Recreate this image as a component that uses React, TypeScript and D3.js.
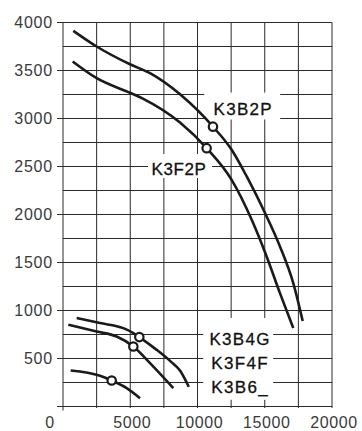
import React from "react";
import * as d3 from "d3";

const xTicks = [0, 5000, 10000, 15000, 20000];
const yTicks = [500, 1000, 1500, 2000, 2500, 3000, 3500, 4000];

const k3b2p: [number, number][] = [
  [766, 3913], [2500, 3750], [4980, 3565], [6470, 3472], [8700, 3252],
  [11150, 2915], [12540, 2674], [13660, 2396], [15020, 2015], [16130, 1667],
  [17120, 1285], [17820, 891],
];
const k3f2p: [number, number][] = [
  [720, 3594], [2505, 3420], [4980, 3268], [5970, 3205], [8700, 2958],
  [10680, 2691], [12540, 2361], [14030, 1945], [15140, 1563], [16130, 1181],
  [17120, 817],
];
const k3b4g: [number, number][] = [
  [1015, 921], [2750, 869], [4485, 816], [5230, 765], [5675, 723],
  [6965, 590], [8000, 470], [8700, 375], [9350, 205],
];
const k3f4f: [number, number][] = [
  [395, 851], [2505, 781], [3990, 729], [5230, 625], [6470, 452], [8200, 192],
];
const k3b6: [number, number][] = [
  [570, 375], [2750, 320], [3620, 271], [4735, 192], [5725, 87],
];

const seriesList = [k3b2p, k3f2p, k3b4g, k3f4f, k3b6];
const markers: [number, number][] = [
  [11150, 2915], [10680, 2691], [5675, 723], [5230, 625], [3620, 271],
];

const topLabels = ["K3B2P", "K3F2P"];
const bottomLabels = ["K3B4G", "K3F4F", "K3B6_"];

export default function App() {
  const x = d3.scaleLinear().domain([0, 20000]).range([63, 332]);
  const y = d3.scaleLinear().domain([0, 4000]).range([406.5, 22.5]);
  const line = d3
    .line<[number, number]>()
    .x((d) => x(d[0]))
    .y((d) => y(d[1]))
    .curve(d3.curveMonotoneX);

  const gridX = d3.range(0, 20001, 2500);
  const gridY = d3.range(0, 4001, 250);
  const gridColor = "#2a2a2a";
  const font = "'Liberation Sans', Arial, Helvetica, sans-serif";

  // label boxes (in data coords)
  const b2p = { x0: x(10500), x1: x(16150), y0: y(3270), y1: y(2990) };
  const f2p = { x0: x(6320), x1: x(11080), y0: y(2630), y1: y(2380) };
  const bot = { x0: x(10420), x1: x(15620), y0: y(922), y1: y(70) };

  return (
    <svg
      width={362}
      height={431}
      style={{ position: "fixed", left: 0, top: 0, display: "block" }}
    >
      <rect x={0} y={0} width={362} height={431} fill="#fff" />
      {gridX.map((v) => (
        <line
          key={"gx" + v}
          x1={x(v)}
          x2={x(v)}
          y1={y(4000)}
          y2={v === 0 ? y(0) + 4 : y(0) + 1.5}
          stroke={gridColor}
          strokeWidth={1}
        />
      ))}
      {gridY.map((v) => (
        <line
          key={"gy" + v}
          x1={v % 500 === 0 ? x(0) - 6 : x(0)}
          x2={x(20000)}
          y1={y(v)}
          y2={y(v)}
          stroke={gridColor}
          strokeWidth={1}
        />
      ))}
      <rect x={b2p.x0} y={b2p.y0} width={b2p.x1 - b2p.x0} height={b2p.y1 - b2p.y0} fill="#fff" />
      <rect x={f2p.x0} y={f2p.y0} width={f2p.x1 - f2p.x0} height={f2p.y1 - f2p.y0} fill="#fff" />
      <rect x={bot.x0} y={bot.y0} width={bot.x1 - bot.x0} height={bot.y1 - bot.y0} fill="#fff" />
      {seriesList.map((s, i) => (
        <path
          key={"s" + i}
          d={line(s) || ""}
          fill="none"
          stroke="#1a1a1a"
          strokeWidth={2.6}
          strokeLinecap="butt"
        />
      ))}
      {markers.map((m, i) => (
        <circle
          key={"m" + i}
          cx={x(m[0])}
          cy={y(m[1])}
          r={4.2}
          fill="#fff"
          stroke="#1a1a1a"
          strokeWidth={2.2}
        />
      ))}
      {yTicks.map((v) => (
        <text
          key={"yt" + v}
          x={53}
          y={y(v) + 5.8}
          textAnchor="end"
          fontFamily={font}
          fontSize={16}
          letterSpacing={0.8}
          fill="#3a3a3a"
        >
          {v}
        </text>
      ))}
      {xTicks.map((v) => (
        <text
          key={"xt" + v}
          x={v === 0 ? x(v) - 13 : x(v) + 2}
          y={428}
          textAnchor="middle"
          fontFamily={font}
          fontSize={16}
          letterSpacing={0.6}
          fill="#3a3a3a"
        >
          {v}
        </text>
      ))}
      <text
        x={(b2p.x0 + b2p.x1) / 2 + 1}
        y={y(3000) - 4}
        textAnchor="middle"
        fontFamily={font}
        fontSize={17}
        letterSpacing={1.3}
        fill="#111"
        stroke="#111"
        strokeWidth={0.3}
      >
        {topLabels[0]}
      </text>
      <text
        x={(f2p.x0 + f2p.x1) / 2 - 1}
        y={y(2500) + 8.5}
        textAnchor="middle"
        fontFamily={font}
        fontSize={17}
        letterSpacing={0.6}
        fill="#111"
        stroke="#111"
        strokeWidth={0.3}
      >
        {topLabels[1]}
      </text>
      {bottomLabels.map((t, i) => (
        <text
          key={t}
          x={(bot.x0 + bot.x1) / 2 + 2}
          y={y(750 - i * 250) + 10.5}
          textAnchor="middle"
          fontFamily={font}
          fontSize={17}
          letterSpacing={1.3}
          fill="#111"
          stroke="#111"
          strokeWidth={0.3}
        >
          {t}
        </text>
      ))}
    </svg>
  );
}
